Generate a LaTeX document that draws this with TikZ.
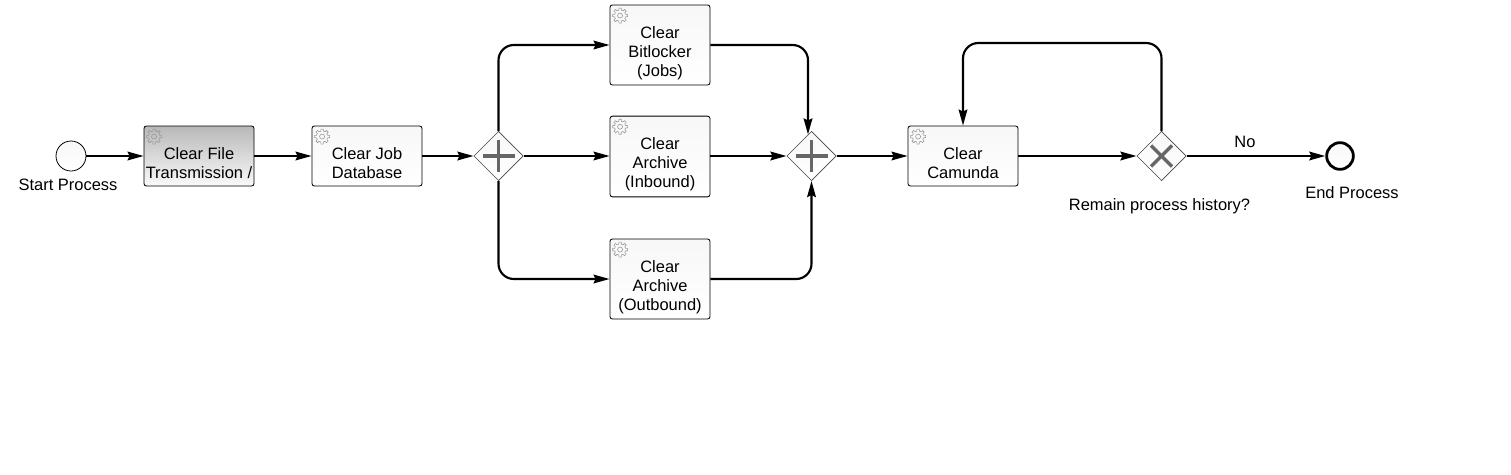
\documentclass[tikz,border=0pt]{standalone}
\usepackage{fontspec}
\setmainfont{Liberation Sans}
\usetikzlibrary{arrows.meta,shapes.geometric,calc}
\definecolor{edgegray}{HTML}{444444}
\definecolor{markgray}{HTML}{666666}
\definecolor{topgray}{HTML}{B8B8B8}
\definecolor{geargray}{HTML}{9A9A9A}
\tikzset{
  x=0.75pt,y=-0.75pt,
  every node/.style={font=\fontsize{12.35}{14.25}\selectfont,align=center,text=black},
  task/.style={draw=black,line width=0.65pt,rounded corners=1.8pt,minimum width=75pt,minimum height=45pt,inner sep=0pt,top color=white!97!black,bottom color=white},
  taskwide/.style={task,minimum width=82.5pt},
  taskactive/.style={taskwide,top color=topgray,bottom color=white!98!black},
  gate/.style={diamond,aspect=1,draw=edgegray,line width=0.5pt,minimum width=37pt,minimum height=37pt,inner sep=0pt,top color=white!97!black,bottom color=white},
  startev/.style={circle,draw=black,line width=0.6pt,minimum size=22.5pt,inner sep=0pt,top color=white!97!black,bottom color=white},
  endev/.style={circle,draw=black,line width=2.1pt,minimum size=20pt,inner sep=0pt,top color=white!97!black,bottom color=white},
  flow/.style={draw=black,line width=1.6pt,rounded corners=11.5pt,-{Stealth[length=12pt,width=6.5pt,inset=1.5pt]}},
  gatemark/.style={draw=markgray,line width=2.6pt},
  gearline/.style={draw=geargray,line width=0.45pt},
  label text/.style={inner sep=0pt},
}
\newcommand{\gear}[1]{%
  \begin{scope}[shift={($(#1.north west)+(10.5,11)$)}]
    \draw[gearline] (0,0) circle[radius=2.5];
    \foreach \a in {0,45,...,315} {
      \draw[gearline,line join=round] ({\a-13}:5.6) -- ({\a-9}:7.6) -- ({\a+9}:7.6) -- ({\a+13}:5.6) -- ({\a+32}:5.6);
    }
  \end{scope}}
\begin{document}
\begin{tikzpicture}
\useasboundingbox (0,0) rectangle (1511,475);
\node[startev] (start) at (71,156) {};
\node[taskactive] (file) at (199,156) {};
\node[taskwide] (job) at (367,156) {};
\node[gate] (g1) at (498.5,156) {};
\node[task,minimum height=60pt] (bit) at (660,45) {};
\node[task,minimum height=60.5pt] (inb) at (660,156.5) {};
\node[task,minimum height=60pt] (outb) at (660,279) {};
\node[gate] (g2) at (811.5,156) {};
\node[taskwide] (cam) at (963,156) {};
\node[gate] (g3) at (1161.5,156) {};
\node[endev] (end) at (1340,156) {};
\node[label text] (filet) at (199,163.5) {Clear File\\Transmission /};
\node[label text] (jobt) at (367,163.5) {Clear Job\\Database};
\node[label text] (bitt) at (660,53) {Clear\\Bitlocker\\(Jobs)};
\node[label text] (inbt) at (660,164) {Clear\\Archive\\(Inbound)};
\node[label text] (outbt) at (660,287) {Clear\\Archive\\(Outbound)};
\node[label text] (camt) at (963,163.5) {Clear\\Camunda};
\node[label text] (startl) at (68,185) {Start Process};
\node[label text] (endl) at (1352,193) {End Process};
\node[label text] (gl) at (1159.5,206.5) {Remain process history?};
\node[label text] (nol) at (1245,142) {No};
\foreach \n in {file,job,bit,inb,outb,cam} {\gear{\n}}
\draw[gatemark] ($(g1.center)+(-16,0)$) -- ($(g1.center)+(16,0)$);
\draw[gatemark] ($(g1.center)+(0,-16)$) -- ($(g1.center)+(0,16)$);
\draw[gatemark] ($(g2.center)+(-16,0)$) -- ($(g2.center)+(16,0)$);
\draw[gatemark] ($(g2.center)+(0,-16)$) -- ($(g2.center)+(0,16)$);
\draw[gatemark] ($(g3.center)+(-10.5,-10.5)$) -- ($(g3.center)+(10.5,10.5)$);
\draw[gatemark] ($(g3.center)+(-10.5,10.5)$) -- ($(g3.center)+(10.5,-10.5)$);
\draw[flow] (start.east) -- (file.west);
\draw[flow] (file.east) -- (job.west);
\draw[flow] (job.east) -- (g1.west);
\draw[flow] (g1.north) |- (bit.west);
\draw[flow] (g1.east) -- (inb.west |- g1.east);
\draw[flow] (g1.south) |- (outb.west);
\draw[flow] (bit.east) -| ($(g2.north)+(-3.5,3.5)$);
\draw[flow] (inb.east |- g2.west) -- (g2.west);
\draw[flow] (outb.east) -| (g2.south);
\draw[flow] (g2.east) -- (cam.west);
\draw[flow] (cam.east) -- (g3.west);
\coordinate (loopa) at (1161.5,43);
\coordinate (loopb) at (963,43);
\draw[flow] (g3.north) -- (loopa) -- (loopb) -- (cam.north);
\draw[flow] (g3.east) -- (end.west);
\end{tikzpicture}
\end{document}
